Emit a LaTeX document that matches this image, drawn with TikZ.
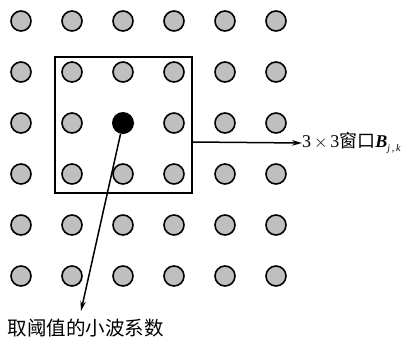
\documentclass[tikz,border=0pt]{standalone}
\usepackage{fontspec}
\setmainfont{Liberation Serif}
\newfontfamily\cjk{Noto Sans CJK SC}
\usetikzlibrary{arrows.meta}
\begin{document}
\begin{tikzpicture}[x=1pt,y=-1pt,
  dot/.style={circle,draw=black,line width=1.6pt,fill=black!25,minimum size=20pt,inner sep=0pt},
  center/.style={circle,fill=black,minimum size=22pt,inner sep=0pt},
  win/.style={draw=black,line width=1.5pt},
  arr/.style={line width=1.5pt,-{Stealth[length=10pt,width=5.5pt]}},
  lbl/.style={font=\fontsize{18pt}{21pt}\selectfont,inner sep=0pt}]
\useasboundingbox (0,0) rectangle (407,341);
\foreach \i in {0,...,5}{
  \foreach \j in {0,...,5}{
    \ifnum\i=2 \ifnum\j=2 \else
      \node[dot] (c\i\j) at (21+51*\i,21+51*\j) {};
    \fi\else
      \node[dot] (c\i\j) at (21+51*\i,21+51*\j) {};
    \fi
  }
}
\node[center] (ctr) at (123,123) {};
\node[win,minimum width=137pt,minimum height=136pt,inner sep=0pt] (w) at (123.5,125) {};
\node[lbl,anchor=west] (r) at (302,143) {3$\,\times\,$3{\cjk 窗口}\textbf{\textit{B}}\raisebox{-4pt}{\fontsize{10pt}{12pt}\selectfont\textit{j}\,,\,\textit{k}}};
\draw[arr] (w.east |- 0,142) coordinate (ws) -- (r.west);
\coordinate (tip) at (81,311);
\draw[arr] (ctr) -- (tip);
\node[lbl,anchor=center,font=\fontsize{19.5pt}{22pt}\selectfont] (b) at (86,328) {\cjk 取阈值的小波系数};
\end{tikzpicture}
\end{document}
